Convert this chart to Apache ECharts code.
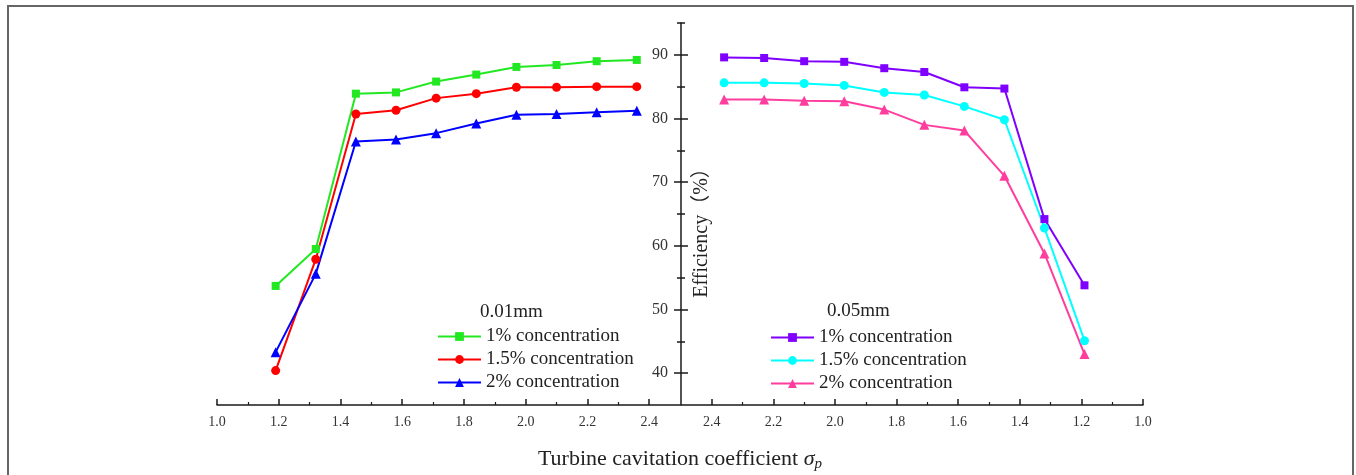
<!DOCTYPE html>
<html>
<head>
<meta charset="utf-8">
<script src="https://cdn.jsdelivr.net/npm/echarts@6/dist/echarts.min.js"></script>
<style>
  html, body { margin: 0; padding: 0; background: #fff; }
  #main { width: 1356px; height: 475px; }
</style>
</head>
<body>
<div id="main"></div>
<script>
// cavitation coefficient (same for both panels)
const sigma = [1.19, 1.32, 1.45, 1.58, 1.71, 1.84, 1.97, 2.10, 2.23, 2.36];

// 0.01mm particles, efficiency %
const eff01_c1 = [53.7, 59.5, 83.9, 84.1, 85.8, 86.9, 88.1, 88.4, 89.0, 89.2];
const eff01_c15 = [40.4, 57.9, 80.7, 81.3, 83.2, 83.9, 84.9, 84.9, 85.0, 85.0];
const eff01_c2 = [43.3, 55.6, 76.4, 76.7, 77.7, 79.2, 80.6, 80.7, 81.0, 81.2];

// 0.05mm particles, efficiency %
const eff05_c1 = [53.8, 64.2, 84.7, 84.9, 87.3, 87.9, 88.9, 89.0, 89.5, 89.6];
const eff05_c15 = [45.1, 62.8, 79.8, 81.9, 83.7, 84.1, 85.2, 85.5, 85.6, 85.6];
const eff05_c2 = [43.0, 58.8, 71.0, 78.1, 79.0, 81.4, 82.7, 82.8, 83.0, 83.0];

const concLabels = ['1% concentration', '1.5% concentration', '2% concentration'];

// ticks
const xMajor = [1.0, 1.2, 1.4, 1.6, 1.8, 2.0, 2.2, 2.4];
const xMinor = [1.1, 1.3, 1.5, 1.7, 1.9, 2.1, 2.3];
const yMajor = [40, 50, 60, 70, 80, 90];
const yMinor = [45, 55, 65, 75, 85, 95];

const serif = '"Liberation Serif", "Times New Roman", serif';
const axisColor = '#1a1a1a';

const pair = (ys) => sigma.map((s, i) => [s, ys[i]]);

const chart = echarts.init(document.getElementById('main'));

function xAxisMajor(grid, inverse) {
  return {
    type: 'value', gridIndex: grid, min: 1.0, max: 2.5, inverse: inverse, position: 'bottom',
    axisLine: { show: true, lineStyle: { color: axisColor, width: 1.5 } },
    axisTick: { show: true, inside: true, length: 6, customValues: xMajor,
      lineStyle: { color: axisColor, width: 1.5 } },
    axisLabel: { show: true, customValues: xMajor, margin: 10,
      formatter: v => v.toFixed(1), fontFamily: serif, fontSize: 14, color: '#333' },
    splitLine: { show: false }
  };
}
function xAxisMinor(grid, inverse) {
  return {
    type: 'value', gridIndex: grid, min: 1.0, max: 2.5, inverse: inverse, position: 'bottom',
    axisLine: { show: false },
    axisTick: { show: true, inside: true, length: 3, customValues: xMinor,
      lineStyle: { color: axisColor, width: 1.2 } },
    axisLabel: { show: false },
    splitLine: { show: false }
  };
}
function yTicks(values, inside, len, withLine, withLabel) {
  return {
    type: 'value', gridIndex: 1, min: 35, max: 95, position: 'left',
    axisLine: { show: withLine, onZero: false, lineStyle: { color: axisColor, width: 1.5 } },
    axisTick: { show: true, inside: inside, length: len, customValues: values,
      lineStyle: { color: axisColor, width: 1.5 } },
    axisLabel: { show: withLabel, customValues: yMajor, margin: 13,
      fontFamily: serif, fontSize: 16, color: '#333' },
    splitLine: { show: false }
  };
}

function lineSeries(name, data, color, symbol, size, xi, yi) {
  return {
    type: 'line', name: name, data: data, xAxisIndex: xi, yAxisIndex: yi,
    symbol: symbol, symbolSize: size, showSymbol: true,
    lineStyle: { color: color, width: 2 },
    itemStyle: { color: color },
    z: 3
  };
}

const colors01 = ['#22e822', '#ff0000', '#0000ff'];
const colors05 = ['#7f00ff', '#00ffff', '#ff3d9e'];
const symbols = ['rect', 'circle', 'triangle'];
const sizes = [8, 9, 10];

const names01 = concLabels.map(l => l + '|a');
const names05 = concLabels.map(l => l + '|b');
const set01 = [eff01_c1, eff01_c15, eff01_c2];
const set05 = [eff05_c1, eff05_c15, eff05_c2];

const series = [];
set01.forEach((ys, i) => series.push(lineSeries(names01[i], pair(ys), colors01[i], symbols[i], sizes[i], 0, 0)));
set05.forEach((ys, i) => series.push(lineSeries(names05[i], pair(ys), colors05[i], symbols[i], sizes[i], 2, 1)));

const legendBase = {
  orient: 'vertical', itemWidth: 43, itemHeight: 11, itemGap: 4,
  textStyle: { fontFamily: serif, fontSize: 19, color: '#222' },
  formatter: n => n.split('|')[0],
  selectedMode: false
};

chart.setOption({
  animation: false,
  backgroundColor: '#fff',
  grid: [
    { left: 217, top: 23, width: 463, height: 382 },
    { left: 681, top: 23, width: 462, height: 382 }
  ],
  xAxis: [xAxisMajor(0, false), xAxisMinor(0, false), xAxisMajor(1, true), xAxisMinor(1, true)],
  yAxis: [
    { type: 'value', gridIndex: 0, min: 35, max: 95, show: false },
    yTicks(yMajor, false, 7, true, true),
    yTicks(yMajor, true, 7, false, false),
    yTicks(yMinor, false, 4, false, false),
    yTicks(yMinor, true, 4, false, false)
  ],
  legend: [
    Object.assign({}, legendBase, { data: names01, left: 432, top: 322 }),
    Object.assign({}, legendBase, { data: names05, left: 765, top: 323 })
  ],
  graphic: [
    { type: 'rect', shape: { x: 8, y: 6, width: 1345, height: 520 },
      style: { fill: 'none', stroke: '#666', lineWidth: 2 }, silent: true },
    { type: 'text', left: 480, top: 303,
      style: { text: '0.01mm', font: '19px ' + serif, fill: '#222' } },
    { type: 'text', left: 827, top: 302,
      style: { text: '0.05mm', font: '19px ' + serif, fill: '#222' } },
    { type: 'text', x: 702, y: 228, rotation: Math.PI / 2,
      style: { text: 'Efficiency（%）', font: '20px "Liberation Serif", "Noto Sans CJK SC", serif',
        fill: '#222', align: 'center', verticalAlign: 'middle' } },
    { type: 'text', x: 680, y: 459,
      style: {
        text: '{a|Turbine cavitation coefficient }{s|σ}{p|p}',
        align: 'center', verticalAlign: 'middle',
        rich: {
          a: { fontFamily: serif, fontSize: 22, fill: '#222' },
          s: { fontFamily: serif, fontSize: 22, fontStyle: 'italic', fill: '#222' },
          p: { fontFamily: serif, fontSize: 15, fontStyle: 'italic', fill: '#222', padding: [10, 0, 0, 0] }
        }
      } }
  ],
  series: series
});
</script>
</body>
</html>
